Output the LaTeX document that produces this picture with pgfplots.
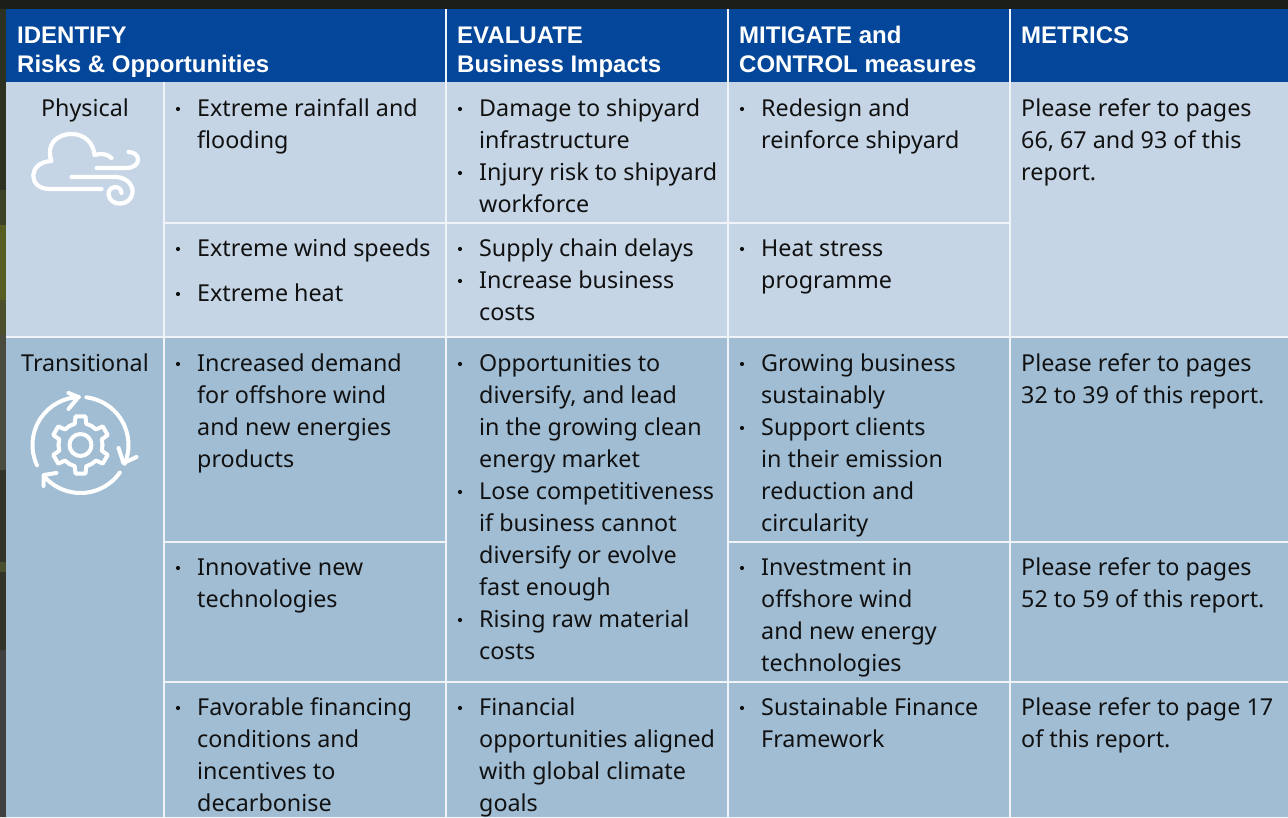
\documentclass[border=0pt]{standalone}
\usepackage{pgfplots}
\pgfplotsset{compat=1.18}
\usepackage{fontspec}
\setmainfont{Noto Sans}
\newfontfamily\hdfont{Liberation Sans}
\definecolor{hdr}{HTML}{04479A}
\definecolor{lite}{HTML}{C5D5E5}
\definecolor{dark}{HTML}{A0BDD4}
\definecolor{ink}{HTML}{111111}
\definecolor{rule}{HTML}{F0F4F8}
\newcommand{\Tx}[3]{\node[anchor=base west,inner sep=0pt,text=ink,font=\fontsize{23.3}{32}\selectfont] at (axis cs:#1,#2+8) {#3};}
\newcommand{\Hd}[3]{\node[anchor=base west,inner sep=0pt,text=white,font=\hdfont\fontsize{24}{32}\selectfont\bfseries] at (axis cs:#1,#2+9) {#3};}
\newcommand{\Bl}[2]{\node[circle,fill=ink,inner sep=0pt,minimum size=4.2pt] at (axis cs:#1,#2+1) {};}
\newcommand{\Cl}[5]{\addplot[draw=none,fill=#5,forget plot] coordinates {(#1,#2) (#3,#2) (#3,#4) (#1,#4) (#1,#2)};}
\newcommand{\Sg}[4]{\addplot[rule,line width=2pt,forget plot] coordinates {(#1,#2) (#3,#4)};}
\definecolor{bgA}{HTML}{1B1F18}
\definecolor{bgB}{HTML}{2C3122}
\definecolor{bgB2}{HTML}{3E4326}
\definecolor{bgC}{HTML}{565E22}
\definecolor{bgC2}{HTML}{4B4F2C}
\definecolor{bgD}{HTML}{4A4A3E}
\definecolor{bgE}{HTML}{33332A}
\definecolor{bgF}{HTML}{4A4E2C}
\definecolor{bgG}{HTML}{403F3F}
\begin{document}
\begin{tikzpicture}
\begin{axis}[at={(0,0)},anchor=south west,scale only axis,width=1288pt,height=817pt,
  xmin=0,xmax=1288,ymin=0,ymax=817,y dir=reverse,axis lines=none,clip=true]
\Cl{0}{0}{1288}{10}{bgA}
\Cl{0}{9}{7}{190}{bgB}
\Cl{0}{190}{7}{225}{bgB2}
\Cl{0}{225}{7}{300}{bgC}
\Cl{0}{300}{7}{335}{bgC2}
\Cl{0}{335}{7}{470}{bgD}
\Cl{0}{470}{7}{562}{bgE}
\Cl{0}{562}{7}{572}{bgF}
\Cl{0}{572}{7}{650}{bgE}
\Cl{0}{650}{7}{817}{bgG}
\Cl{6}{9}{1288}{82}{hdr}
\Cl{6}{82}{1288}{336}{lite}
\Cl{6}{336}{1288}{817}{dark}
\Sg{445.5}{9}{445.5}{817}
\Sg{727.5}{9}{727.5}{817}
\Sg{1009.5}{9}{1009.5}{817}
\Sg{163.5}{82}{163.5}{817}
\Sg{163}{222.5}{1009}{222.5}
\Sg{6}{336.5}{1288}{336.5}
\Sg{163}{541.5}{445}{541.5}
\Sg{727}{541.5}{1288}{541.5}
\Sg{163}{681.5}{1288}{681.5}
\Hd{17}{34}{IDENTIFY}
\Hd{17}{63}{Risks \& Opportunities}
\Hd{457}{34}{EVALUATE}
\Hd{457}{63}{Business Impacts}
\Hd{739}{34}{MITIGATE and}
\Hd{739}{63}{CONTROL measures}
\Hd{1021}{34}{METRICS}
\node[anchor=base,inner sep=0pt,text=ink,font=\fontsize{23.3}{32}\selectfont] at (axis cs:85,116) {Physical};
\node[anchor=base,inner sep=0pt,text=ink,font=\fontsize{23.3}{32}\selectfont] at (axis cs:85,371) {Transitional};
\Bl{178}{108}\Tx{197}{108}{Extreme rainfall and}\Tx{197}{140}{flooding}
\Bl{178}{248}\Tx{197}{248}{Extreme wind speeds}
\Bl{178}{293}\Tx{197}{293}{Extreme heat}
\Bl{178}{363}\Tx{197}{363}{Increased demand}\Tx{197}{395}{for offshore wind}\Tx{197}{427}{and new energies}\Tx{197}{459}{products}
\Bl{178}{567}\Tx{197}{567}{Innovative new}\Tx{197}{599}{technologies}
\Bl{178}{707}\Tx{197}{707}{Favorable financing}\Tx{197}{739}{conditions and}\Tx{197}{771}{incentives to}\Tx{197}{803}{decarbonise}
\Bl{460}{108}\Tx{479}{108}{Damage to shipyard}\Tx{479}{140}{infrastructure}
\Bl{460}{172}\Tx{479}{172}{Injury risk to shipyard}\Tx{479}{204}{workforce}
\Bl{460}{248}\Tx{479}{248}{Supply chain delays}
\Bl{460}{280}\Tx{479}{280}{Increase business}\Tx{479}{312}{costs}
\Bl{460}{363}\Tx{479}{363}{Opportunities to}\Tx{479}{395}{diversify, and lead}\Tx{479}{427}{in the growing clean}\Tx{479}{459}{energy market}
\Bl{460}{491}\Tx{479}{491}{Lose competitiveness}\Tx{479}{523}{if business cannot}\Tx{479}{555}{diversify or evolve}\Tx{479}{587}{fast enough}
\Bl{460}{619}\Tx{479}{619}{Rising raw material}\Tx{479}{651}{costs}
\Bl{460}{707}\Tx{479}{707}{Financial}\Tx{479}{739}{opportunities aligned}\Tx{479}{771}{with global climate}\Tx{479}{803}{goals}
\Bl{742}{108}\Tx{761}{108}{Redesign and}\Tx{761}{140}{reinforce shipyard}
\Bl{742}{248}\Tx{761}{248}{Heat stress}\Tx{761}{280}{programme}
\Bl{742}{363}\Tx{761}{363}{Growing business}\Tx{761}{395}{sustainably}
\Bl{742}{427}\Tx{761}{427}{Support clients}\Tx{761}{459}{in their emission}\Tx{761}{491}{reduction and}\Tx{761}{523}{circularity}
\Bl{742}{567}\Tx{761}{567}{Investment in}\Tx{761}{599}{offshore wind}\Tx{761}{631}{and new energy}\Tx{761}{663}{technologies}
\Bl{742}{707}\Tx{761}{707}{Sustainable Finance}\Tx{761}{739}{Framework}
\Tx{1021}{108}{Please refer to pages}\Tx{1021}{140}{66, 67 and 93 of this}\Tx{1021}{172}{report.}
\Tx{1021}{363}{Please refer to pages}\Tx{1021}{395}{32 to 39 of this report.}
\Tx{1021}{567}{Please refer to pages}\Tx{1021}{599}{52 to 59 of this report.}
\Tx{1021}{707}{Please refer to page 17}\Tx{1021}{739}{of this report.}
\end{axis}
\begin{scope}[x=1pt,y=-1pt,shift={(1.5pt,817pt)},white,line cap=round,line join=round]
 \draw[line width=4.2pt] (100,189) -- (48,189) .. controls (26,189) and (26,162) .. (50,161)
   .. controls (44,145) and (55,134) .. (70,134) .. controls (83,134) and (92,143) .. (93,155)
   .. controls (100,153) and (106,154) .. (110,158);
 \draw[line width=4.2pt] (95,168) -- (125,168) .. controls (140,168) and (140,152) .. (127,152);
 \draw[line width=4.2pt] (70,177) -- (113,177) .. controls (128,177) and (132,188) .. (131,193)
   .. controls (129,207) and (108,207) .. (107,194) .. controls (107,185) and (120,185) .. (120,193);
 \begin{scope}[shift={(79,445)},line width=4pt]
  \draw (0,0) circle (11);
  \foreach \t in {-90,-30,30,90,150,210}{
   \draw (\t-30:22) -- (\t-15:22) -- (\t-10:29) -- (\t+10:29) -- (\t+15:22) -- (\t+30:22);
  }
  \draw (155:48) arc[start angle=155,end angle=268,radius=48];
  \draw (-12,-52) -- (-2,-48) -- (-12,-36);
  \draw (-83:48) arc[start angle=-83,end angle=23,radius=48];
  \draw (38,3) -- (43,18) -- (56,12);
  \draw (35:48) arc[start angle=35,end angle=139,radius=48];
  \draw (-24,28) -- (-37,30) -- (-37,41);
 \end{scope}
\end{scope}
\end{tikzpicture}
\end{document}
